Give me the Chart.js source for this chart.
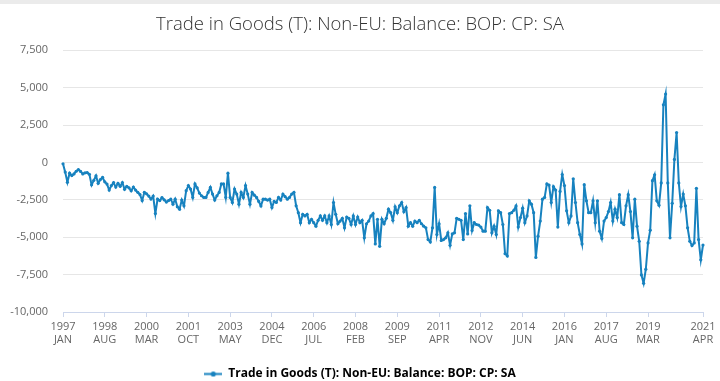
<!DOCTYPE html>
<html>
<head>
<meta charset="utf-8">
<script src="https://cdn.jsdelivr.net/npm/chart.js@4.4.0/dist/chart.umd.min.js"></script>
<style>
  html, body { margin: 0; padding: 0; background: #fff; overflow: hidden; }
</style>
</head>
<body>
<canvas id="tradeChart" width="720" height="381"></canvas>
<script>
const seriesName = 'Trade in Goods (T): Non-EU: Balance: BOP: CP: SA';
const firstYear = 1997;
const monthNames = ['JAN', 'FEB', 'MAR', 'APR', 'MAY', 'JUN', 'JUL', 'AUG', 'SEP', 'OCT', 'NOV', 'DEC'];

// monthly values, Jan 1997 .. Apr 2021 (£ million)
const balance = [
  -90, -650, -1330, -720, -880, -770, -590, -480, -600, -770, -700, -680,
  -800, -1500, -1200, -900, -1400, -1150, -1000, -1300, -1450, -1850, -1550, -1350,
  -1650, -1400, -1600, -1350, -1800, -1600, -1700, -1900, -1650, -1850, -2000, -2150,
  -2550, -2000, -2100, -2250, -2450, -2250, -3420, -2450, -2550, -2350, -2500, -2650,
  -2550, -2460, -2790, -2460, -2970, -3130, -2520, -2900, -1890, -1550, -1780, -2340,
  -1440, -1700, -2050, -2230, -2340, -2340, -2010, -1670, -2120, -2520, -2230, -2010,
  -1440, -1440, -2340, -720, -2340, -2680, -1780, -2120, -2790, -2010, -2340, -1550,
  -2120, -2790, -2010, -2190, -2340, -2610, -2910, -2460, -2460, -2520, -2460, -3020,
  -2610, -2680, -2340, -2520, -2120, -2290, -2460, -2340, -2120, -2000, -2900, -3360,
  -4030, -3470, -3580, -3470, -4030, -3800, -4030, -4260, -3870, -3580, -3870, -3580,
  -4030, -3580, -4150, -2680, -3470, -4100, -3920, -3740, -4370, -3650, -3740, -4150,
  -3580, -4150, -3650, -4030, -3870, -5040, -4100, -3920, -3580, -3420, -5450, -3800,
  -5610, -3800, -4100, -3740, -3130, -3360, -3870, -2970, -3360, -2900, -2680, -3300,
  -3020, -4260, -4030, -4260, -3920, -4030, -3870, -4100, -4260, -4370, -5160, -5320,
  -4370, -1670, -4820, -4100, -5220, -5160, -5040, -4710, -5540, -4780, -4710, -3740,
  -3800, -3870, -5160, -3420, -4780, -2900, -4550, -4030, -4150, -4190, -4320, -4600,
  -4600, -3020, -3200, -4710, -4260, -4820, -3240, -3360, -4150, -6100, -6250, -3420,
  -3360, -3200, -2910, -4320, -3690, -3060, -4030, -3580, -2570, -2790, -3360, -6350,
  -4930, -3920, -2460, -2340, -1440, -1510, -2680, -1620, -1850, -4320, -1940, -810,
  -1550, -3240, -4030, -3580, -1100, -2680, -4030, -4820, -5450, -1490, -2570, -3360,
  -3360, -2570, -4030, -2570, -4600, -5090, -3920, -3690, -3290, -2680, -3920, -3130,
  -3690, -2160, -4030, -4150, -2900, -2160, -3290, -5040, -2460, -4260, -5270, -7520,
  -8080, -7140, -5380, -4530, -1220, -830, -2570, -2860, -1370, 3850, 4570, -1370,
  -5040, -2730, 200, 2000, -1370, -2950, -2120, -2900, -4370, -5270, -5560, -5380,
  -1730, -5160, -6510, -5520
];

const xTickLabels = ['1997 JAN', '1998 AUG', '2000 MAR', '2001 OCT', '2003 MAY', '2004 DEC',
  '2006 JUL', '2008 FEB', '2009 SEP', '2011 APR', '2012 NOV', '2014 JUN', '2016 JAN',
  '2017 AUG', '2019 MAR', '2021 APR'];
const yTicks = [-10000, -7500, -5000, -2500, 0, 2500, 5000, 7500];

const labels = balance.map((v, i) => (firstYear + Math.floor(i / 12)) + ' ' + monthNames[i % 12]);

const lineBlue = '#1782bf';

// legend marker: short line with a dot
const marker = document.createElement('canvas');
marker.width = 18;
marker.height = 7;
const mctx = marker.getContext('2d');
mctx.strokeStyle = lineBlue;
mctx.lineWidth = 2;
mctx.beginPath();
mctx.moveTo(0, 3.5);
mctx.lineTo(18, 3.5);
mctx.stroke();
mctx.fillStyle = lineBlue;
mctx.beginPath();
mctx.arc(9, 3.5, 2.6, 0, Math.PI * 2);
mctx.fill();

const topBand = {
  id: 'topBand',
  beforeDraw(chart) {
    const c = chart.ctx;
    c.save();
    c.fillStyle = '#fff';
    c.fillRect(0, 0, chart.width, chart.height);
    c.fillStyle = '#ebebeb';
    c.fillRect(0, 0, chart.width, 4);
    c.restore();
  }
};

Chart.defaults.font.family = "'Open Sans', 'Noto Sans', sans-serif";

const ctx = document.getElementById('tradeChart').getContext('2d');
new Chart(ctx, {
  type: 'line',
  data: {
    labels: labels,
    datasets: [{
      label: seriesName,
      data: balance,
      borderColor: lineBlue,
      backgroundColor: lineBlue,
      borderWidth: 2,
      pointRadius: 1.6,
      pointBorderWidth: 0,
      pointBackgroundColor: lineBlue,
      tension: 0
    }]
  },
  options: {
    responsive: false,
    animation: false,
    devicePixelRatio: 1,
    layout: { padding: { left: 0, right: 0, top: 0, bottom: -9 } },
    scales: {
      x: {
        afterBuildTicks: s => {
          s.ticks = s.ticks.filter(t => xTickLabels.includes(labels[t.value]));
        },
        afterFit: s => { s.height = 53; },
        ticks: {
          autoSkip: false,
          maxRotation: 0,
          padding: 3,
          color: '#666',
          font: { size: 11, lineHeight: 1.22 },
          callback: function (v) { return this.getLabelForValue(v).split(' '); }
        },
        grid: { drawOnChartArea: false, drawTicks: true, tickLength: 5, color: '#ccd6eb' },
        border: { color: '#ccd6eb' }
      },
      y: {
        min: -10000,
        max: 7500,
        afterBuildTicks: s => { s.ticks = yTicks.map(v => ({ value: v })); },
        afterFit: s => { s.width = 63; },
        ticks: {
          padding: 15,
          color: '#666',
          font: { size: 11 },
          callback: v => v.toLocaleString('en-US')
        },
        grid: { color: '#e6e6e6', drawTicks: false },
        border: { display: false }
      },
      // empty right margin so the plot ends where the reference does
      spacer: {
        type: 'linear',
        position: 'right',
        display: true,
        afterFit: s => { s.width = 17; },
        ticks: { display: false },
        grid: { display: false, drawTicks: false },
        border: { display: false }
      }
    },
    plugins: {
      title: {
        display: true,
        text: seriesName,
        color: '#333',
        font: { size: 18.5, weight: '300' },
        padding: { top: 14, bottom: 14 }
      },
      legend: {
        position: 'bottom',
        labels: {
          usePointStyle: true,
          pointStyleWidth: 18,
          padding: 3,
          color: '#333',
          font: { size: 12, weight: 'bold' },
          generateLabels: () => [{
            text: seriesName,
            pointStyle: marker,
            fillStyle: lineBlue,
            strokeStyle: lineBlue,
            lineWidth: 0,
            hidden: false,
            datasetIndex: 0
          }]
        }
      },
      tooltip: { enabled: false }
    }
  },
  plugins: [topBand]
});
</script>
</body>
</html>
